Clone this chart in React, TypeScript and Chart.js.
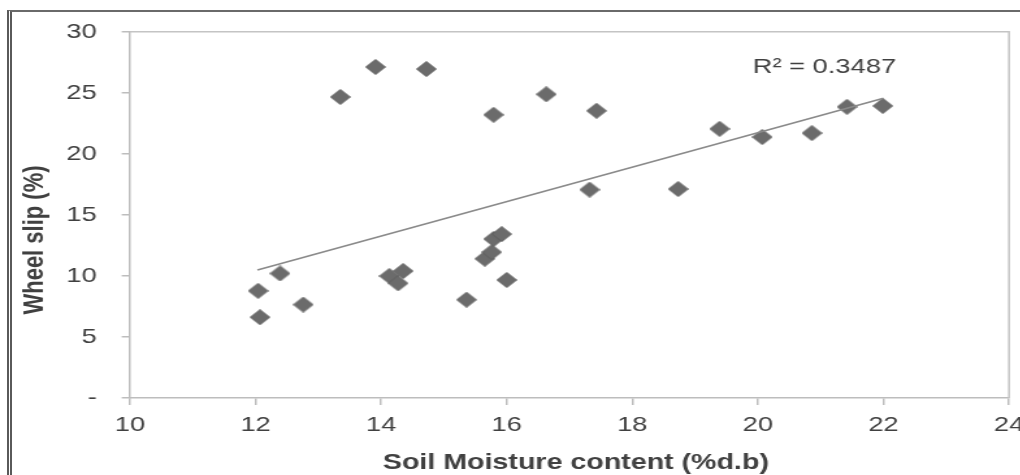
import React, { useEffect, useRef } from "react";
import { Chart, registerables } from "chart.js";

Chart.register(...registerables);

// ---- data ----
const moisture = [12.04, 12.07, 12.39, 12.76, 13.35, 13.91, 14.72, 14.13, 14.27, 14.35, 15.36, 15.65, 15.76, 15.79, 15.92, 16.0, 15.79, 16.63, 17.43, 17.32, 18.73, 19.39, 20.07, 20.86, 21.42, 21.99];
const wheelSlip = [8.78, 6.62, 10.2, 7.65, 24.66, 27.12, 26.95, 9.99, 9.4, 10.4, 8.05, 11.41, 11.95, 13.03, 13.43, 9.67, 23.2, 24.88, 23.53, 17.07, 17.12, 22.05, 21.38, 21.7, 23.85, 23.93];
const trendX = [12.03, 22.0];
const trendY = [10.48, 24.56];
const xTicks = [10, 12, 14, 16, 18, 20, 22, 24];
const yTicks = [0, 5, 10, 15, 20, 25, 30];
const yTickLabels = ["-", "5", "10", "15", "20", "25", "30"];
const rSquaredLabel = "R\u00B2 = 0.3487";
const xTitle = "Soil Moisture content (%d.b)";
const yTitle = "Wheel slip (%)";

const FONT = "'Liberation Sans', Arial, Helvetica, sans-serif";
const STRETCH = 1.3;
const CANVAS_W = 800;
const CANVAS_H = 475;

function makeDiamond(): HTMLCanvasElement {
  const c = document.createElement("canvas");
  c.width = 16;
  c.height = 16;
  const g = c.getContext("2d")!;
  g.beginPath();
  g.moveTo(8, 0.5);
  g.lineTo(15.5, 8);
  g.lineTo(8, 15.5);
  g.lineTo(0.5, 8);
  g.closePath();
  g.fillStyle = "#6b6b6b";
  g.fill();
  g.strokeStyle = "#5c5c5c";
  g.lineWidth = 1;
  g.stroke();
  return c;
}

const decor = {
  id: "decor",
  beforeDatasetsDraw(chart: any) {
    const { ctx, chartArea } = chart;
    ctx.save();
    ctx.strokeStyle = "#c4c4c4";
    ctx.lineWidth = 1.5;
    ctx.beginPath();
    ctx.moveTo(chartArea.left, chartArea.top);
    ctx.lineTo(chartArea.right, chartArea.top);
    ctx.lineTo(chartArea.right, chartArea.bottom);
    ctx.stroke();
    ctx.restore();
  },
  afterDraw(chart: any) {
    const { ctx } = chart;
    ctx.save();
    ctx.fillStyle = "#404040";
    // R² label
    ctx.font = `21px ${FONT}`;
    ctx.textAlign = "left";
    ctx.textBaseline = "alphabetic";
    ctx.fillText(rSquaredLabel, 579, 72.5);
    // x title
    ctx.font = `bold 22px ${FONT}`;
    ctx.textAlign = "center";
    ctx.fillText(xTitle, 443, 469);
    // y title
    ctx.translate(33, 240);
    ctx.rotate(-Math.PI / 2);
    ctx.fillText(yTitle, 0, 0);
    ctx.restore();
  },
};

export default function App() {
  const ref = useRef<HTMLCanvasElement>(null);

  useEffect(() => {
    const canvas = ref.current!;
    const diamond = makeDiamond();
    const chart = new Chart(canvas, {
      type: "scatter",
      data: {
        datasets: [
          {
            label: "trend",
            data: trendX.map((x, i) => ({ x, y: trendY[i] })),
            showLine: true,
            borderColor: "#8a8a8a",
            borderWidth: 1.6,
            pointRadius: 0,
            fill: false,
          },
          {
            label: "Wheel slip",
            data: moisture.map((x, i) => ({ x, y: wheelSlip[i] })),
            pointStyle: diamond as any,
            pointRadius: 8,
            backgroundColor: "#6b6b6b",
            borderColor: "#5c5c5c",
          },
        ],
      },
      options: {
        responsive: false,
        animation: false,
        devicePixelRatio: 1,
        layout: { padding: { left: 0, top: 26.7, right: CANVAS_W - 1009 / STRETCH, bottom: 0 } },
        plugins: {
          legend: { display: false },
          tooltip: { enabled: false },
        },
        scales: {
          x: {
            type: "linear",
            min: 10,
            max: 24,
            afterBuildTicks: (s: any) => {
              s.ticks = xTicks.map((v) => ({ value: v }));
            },
            afterFit: (s: any) => {
              s.height = 77;
            },
            grid: {
              display: true,
              drawOnChartArea: false,
              drawTicks: true,
              tickLength: 7,
              color: "#bdbdbd",
              lineWidth: 1.5,
            },
            border: { display: true, color: "#bdbdbd", width: 1.5 },
            ticks: {
              padding: 8,
              color: "#404040",
              font: { family: FONT, size: 21 },
              maxRotation: 0,
              autoSkip: false,
            },
          },
          y: {
            type: "linear",
            min: 0,
            max: 30,
            afterBuildTicks: (s: any) => {
              s.ticks = yTicks.map((v) => ({ value: v }));
            },
            afterFit: (s: any) => {
              s.width = 130 / STRETCH;
            },
            grid: {
              display: true,
              drawOnChartArea: false,
              drawTicks: true,
              tickLength: 6.4,
              color: "#bdbdbd",
              lineWidth: 1.5,
            },
            border: { display: true, color: "#bdbdbd", width: 1.5 },
            ticks: {
              padding: 19.2,
              color: "#404040",
              font: { family: FONT, size: 21 },
              autoSkip: false,
              callback: (v: any) => {
                const i = yTicks.indexOf(Number(v));
                return i >= 0 ? yTickLabels[i] : "";
              },
            },
          },
        },
      },
      plugins: [decor],
    } as any);
    return () => chart.destroy();
  }, []);

  return (
    <div
      style={{
        position: "fixed",
        left: 0,
        top: 0,
        width: 1020,
        height: 475,
        overflow: "hidden",
        background: "#ffffff",
      }}
    >
      <div
        style={{
          position: "absolute",
          left: 7,
          top: 10,
          width: 1040,
          height: 480,
          borderTop: "2px solid #6a6a6a",
          borderLeft: "5px double #5a5a5a",
          boxSizing: "border-box",
        }}
      />
      <div
        style={{
          position: "absolute",
          left: 0,
          top: 0,
          width: CANVAS_W,
          height: CANVAS_H,
          transform: `scaleX(${STRETCH})`,
          transformOrigin: "0 0",
        }}
      >
        <canvas
          ref={ref}
          width={CANVAS_W}
          height={CANVAS_H}
          style={{ display: "block", width: CANVAS_W, height: CANVAS_H }}
        />
      </div>
    </div>
  );
}
